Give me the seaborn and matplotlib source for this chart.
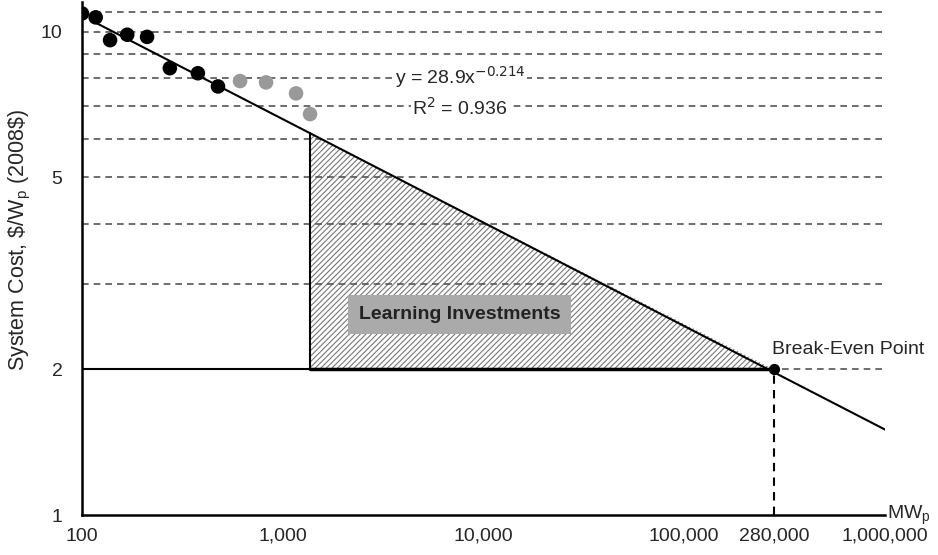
import numpy as np
import pandas as pd
import matplotlib
matplotlib.use("Agg")
import matplotlib.pyplot as plt
import seaborn as sns

# historic system cost points (MWp cumulative, $/Wp 2008$)
early_mw = [100, 117, 138, 168, 211, 274, 378, 476]
early_cost = [10.9, 10.7, 9.6, 9.85, 9.75, 8.4, 8.2, 7.7]
recent_mw = [613, 826, 1165, 1368]
recent_cost = [7.9, 7.85, 7.45, 6.75]

# experience curve fit y = a * x^b
fit_a = 28.9
fit_b = -0.214
fit_range = [112, 1_000_000]

start_mw = 1368
target_cost = 2.0
breakeven_mw = 280_000

grid_levels = [2, 3, 4, 5, 6, 7, 8, 9, 10, 11]
y_ticks = [1, 2, 5, 10]
x_ticks = [100, 1_000, 10_000, 100_000, 280_000, 1_000_000]
x_ticklabels = ["100", "1,000", "10,000", "100,000", "280,000", "1,000,000"]

sns.set_style("white")
plt.rcParams["font.family"] = ["Liberation Sans", "DejaVu Sans"]
plt.rcParams["hatch.linewidth"] = 0.8

fig = plt.figure(figsize=(9.38, 5.55), dpi=100)
ax = fig.add_axes([0.0874, 0.072, 0.856, 0.924])
ax.set_xscale("log")
ax.set_yscale("log")
ax.set_xlim(100, 1_000_000)
ax.set_ylim(1, 11.5)

# dashed horizontal grid
for lv in grid_levels:
    ax.plot([100, 1_000_000], [lv, lv], ls=(0, (4, 3)), color="#555555", lw=1.2, zorder=2)

# learning investment area
fit_at_start = fit_a * start_mw ** fit_b
poly_x = [start_mw, start_mw, breakeven_mw]
poly_y = [target_cost, fit_at_start, target_cost]
ax.fill(poly_x, poly_y, facecolor="white", edgecolor="#777777", hatch="//////", lw=0, zorder=1)
ax.plot([start_mw, start_mw], [target_cost, fit_at_start], color="black", lw=1.5, zorder=3)
ax.plot([100, breakeven_mw], [target_cost, target_cost], color="black", lw=1.5, zorder=3)
ax.plot([start_mw, breakeven_mw], [target_cost, target_cost], color="black", lw=2.5, zorder=3)
ax.plot([breakeven_mw, breakeven_mw], [1, target_cost], ls=(0, (4, 3)), color="black", lw=1.5, zorder=3)

# fit line
fit_df = pd.DataFrame({"mw": fit_range, "cost": [fit_a * x ** fit_b for x in fit_range]})
sns.lineplot(data=fit_df, x="mw", y="cost", color="black", lw=1.5, ax=ax, zorder=4)

sns.scatterplot(x=early_mw, y=early_cost, color="black", s=110, edgecolor="none", ax=ax, zorder=5)
sns.scatterplot(x=recent_mw, y=recent_cost, color="#999999", s=110, edgecolor="none", ax=ax, zorder=5)
ax.scatter([breakeven_mw], [target_cost], color="black", s=50, zorder=6)

# annotations
ax.text(7640, 8.05, r"y = 28.9x$^{-0.214}$", fontsize=14, ha="center", va="center",
        bbox=dict(facecolor="white", edgecolor="none", pad=1), zorder=6)
ax.text(7640, 6.95, r"R$^2$ = 0.936", fontsize=14, ha="center", va="center",
        bbox=dict(facecolor="white", edgecolor="none", pad=1), zorder=6)
ax.text(7640, 2.6, "Learning Investments", fontsize=14, fontweight="bold", color="#222222",
        ha="center", va="center",
        bbox=dict(facecolor="#aaaaaa", edgecolor="none", boxstyle="square,pad=0.55"), zorder=6)
ax.text(breakeven_mw * 0.98, 2.2, "Break-Even Point", fontsize=14, ha="left", va="center",
        bbox=dict(facecolor="white", edgecolor="none", pad=0.5), zorder=6)

ax.set_xticks(x_ticks)
ax.set_xticklabels(x_ticklabels)
ax.set_yticks(y_ticks)
ax.set_yticklabels([str(t) for t in y_ticks])
ax.xaxis.set_minor_locator(matplotlib.ticker.NullLocator())
ax.yaxis.set_minor_locator(matplotlib.ticker.NullLocator())
ax.tick_params(axis="x", direction="in", length=5, width=1.5, labelsize=14, pad=9)
ax.tick_params(axis="y", direction="out", length=4, width=1.2, labelsize=14, pad=10)
ax.set_xlabel("")
ax.set_ylabel("")

sns.despine(ax=ax, top=True, right=True)
for side in ["left", "bottom"]:
    ax.spines[side].set_linewidth(1.8)
    ax.spines[side].set_color("black")

fig.text(20 / 938, 1 - 240 / 555, r"System Cost, \$/W$_\mathregular{p}$ (2008\$)", fontsize=15.5,
         rotation=90, ha="center", va="center")
fig.text(0.946, 0.072, r"MW$_\mathregular{p}$", fontsize=14, ha="left", va="center")

fig.savefig("out.png", dpi=100)
